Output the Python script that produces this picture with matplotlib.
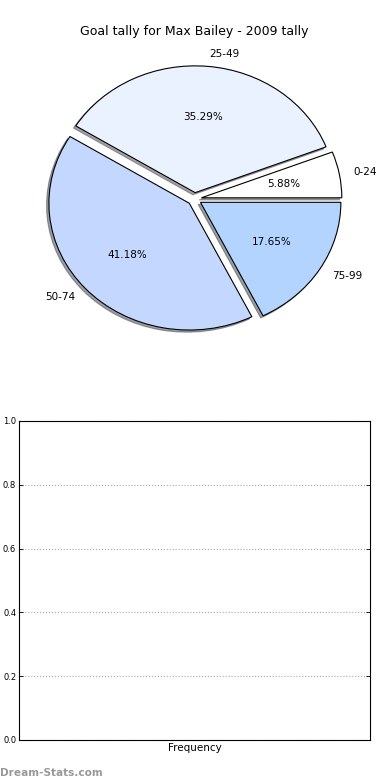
#!/usr/bin/env python3

import matplotlib.pyplot as plt

# ---- Data ----
ranges = ["0-24", "25-49", "50-74", "75-99"]
goals = [1, 6, 7, 3]
colors = ["#ffffff", "#eaf1ff", "#c4d8ff", "#b3d4ff"]
explode = [0.05, 0.05, 0.05, 0.05]
yticks = [0.0, 0.2, 0.4, 0.6, 0.8, 1.0]

fig = plt.figure(figsize=(3.9, 7.8), dpi=100)

# ---- Pie ----
ax1 = fig.add_axes([0.0487, 0.5417, 0.9, 0.4064])
wedges, texts, autotexts = ax1.pie(
    goals, labels=ranges, colors=colors, explode=explode,
    autopct="%1.2f%%", startangle=0,
    shadow={"ox": -0.012, "oy": -0.012},
    wedgeprops=dict(edgecolor="black", linewidth=0.8),
    textprops=dict(fontsize=7.5),
)
ax1.set_aspect("auto")
ax1.set_xlim(-1.25, 1.25)
ax1.set_ylim(-1.25, 1.25)
ax1.set_title("Goal tally for Max Bailey - 2009 tally", fontsize=9, pad=4)

# ---- Empty frequency axes ----
ax2 = fig.add_axes([0.0487, 0.0513, 0.9, 0.409])
ax2.set_ylim(0, 1)
ax2.set_yticks(yticks)
ax2.set_yticklabels([f"{v:.1f}" for v in yticks], fontsize=6)
ax2.set_xticks([])
ax2.tick_params(axis="y", direction="in", right=True, length=3, width=0.6, pad=2)
ax2.grid(True, axis="y", linestyle=":", color="#aaaaaa", linewidth=0.8)
ax2.set_xlabel("Frequency", fontsize=7.5, labelpad=2)
for s in ax2.spines.values():
    s.set_linewidth(0.8)

fig.text(0.0, 0.003, "Dream-Stats.com", fontsize=7.6, color="#999999",
         fontweight="bold", ha="left", va="bottom")

plt.savefig("out.png", dpi=100)
